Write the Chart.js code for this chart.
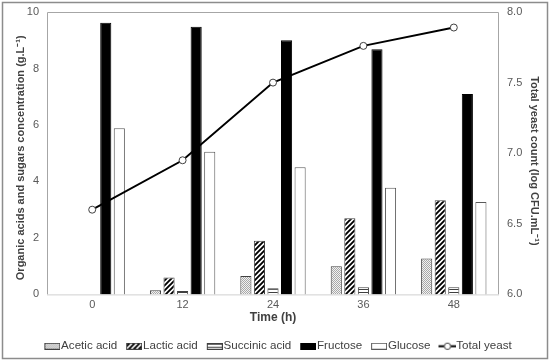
<!DOCTYPE html>
<html>
<head>
<meta charset="utf-8">
<script src="https://cdn.jsdelivr.net/npm/chart.js@4"></script>
<style>
  body { margin: 0; background: #fff; }
  #wrap { width: 550px; height: 362px; }
</style>
</head>
<body>
<div id="wrap"><canvas id="mychart" width="550" height="362"></canvas></div>
<script>
const times = ['0', '12', '24', '36', '48'];
const acetic = [0, 0.15, 0.65, 1.0, 1.27];
const lactic = [0, 0.6, 1.9, 2.7, 3.33];
const succinic = [0, 0.12, 0.22, 0.25, 0.25];
const fructose = [9.62, 9.48, 9.0, 8.68, 7.1];
const glucose = [5.88, 5.05, 4.5, 3.78, 3.27];
const yeast = [6.6, 6.95, 7.5, 7.76, 7.89];

const FONT = "'Liberation Sans', Arial, sans-serif";

// small canvas tiles for the hatch fills
function tile(w, h, draw) {
    const c = document.createElement('canvas');
    c.width = w; c.height = h;
    const g = c.getContext('2d');
    draw(g, w, h);
    return g.createPattern(c, 'repeat');
}

const dotFill = tile(2, 2, (g) => {
    g.fillStyle = '#f2f2f2'; g.fillRect(0, 0, 2, 2);
    g.fillStyle = '#a8a8a8'; g.fillRect(0, 0, 1, 1); g.fillRect(1, 1, 1, 1);
});
const diagFill = tile(5, 5, (g, w, h) => {
    g.fillStyle = '#fff'; g.fillRect(0, 0, w, h);
    g.strokeStyle = '#000'; g.lineWidth = 1.9;
    g.beginPath();
    g.moveTo(-1, h + 1); g.lineTo(w + 1, -1);
    g.moveTo(-2, 2); g.lineTo(2, -2);
    g.moveTo(w - 2, h + 2); g.lineTo(w + 2, h - 2);
    g.stroke();
});
const horizFill = tile(2, 3, (g) => {
    g.fillStyle = '#fff'; g.fillRect(0, 0, 2, 3);
    g.fillStyle = '#404040'; g.fillRect(0, 1, 2, 1);
});

// legend icons: drawing sits in the right 16px of the canvas so it hugs the text
function boxIcon(fill, border) {
    const c = document.createElement('canvas');
    c.width = 22; c.height = 7;
    const g = c.getContext('2d');
    g.fillStyle = fill; g.fillRect(6, 0, 16, 7);
    g.strokeStyle = border; g.lineWidth = 1;
    g.strokeRect(6.5, 0.5, 15, 6);
    return c;
}
function lineIcon() {
    const c = document.createElement('canvas');
    c.width = 24; c.height = 9;
    const g = c.getContext('2d');
    g.strokeStyle = '#000'; g.lineWidth = 2;
    g.beginPath(); g.moveTo(6, 4.5); g.lineTo(24, 4.5); g.stroke();
    g.fillStyle = '#fff'; g.strokeStyle = '#404040'; g.lineWidth = 1;
    g.beginPath(); g.arc(15, 4.5, 3.2, 0, Math.PI * 2); g.fill(); g.stroke();
    return c;
}
const icons = [
    boxIcon(dotFill, '#404040'),
    boxIcon(diagFill, '#404040'),
    boxIcon(horizFill, '#404040'),
    boxIcon('#000', '#000'),
    boxIcon('#fff', '#595959'),
    lineIcon()
];

const framePlugin = {
    id: 'frame',
    beforeDraw(chart) {
        const c = chart.ctx;
        c.save();
        c.fillStyle = '#fff';
        c.fillRect(0, 0, chart.width, chart.height);
        c.restore();
    },
    beforeDatasetsDraw(chart) {
        const {left, top, right, bottom} = chart.chartArea;
        const c = chart.ctx;
        c.save();
        c.lineWidth = 1;
        c.strokeStyle = '#a6a6a6';
        c.beginPath();
        c.moveTo(left + 0.5, bottom);
        c.lineTo(left + 0.5, top + 0.5);
        c.lineTo(right - 0.5, top + 0.5);
        c.lineTo(right - 0.5, bottom);
        c.stroke();
        c.strokeStyle = '#d0d0d0';
        c.beginPath();
        c.moveTo(left, bottom + 0.5);
        c.lineTo(right, bottom + 0.5);
        c.stroke();
        c.restore();
    },
    afterDraw(chart) {
        const c = chart.ctx;
        c.save();
        c.strokeStyle = '#8c8c8c';
        c.lineWidth = 1.5;
        c.strokeRect(2.5, 2.5, 545, 356);
        c.restore();
    }
};

const tickFont = { family: FONT, size: 11, lineHeight: 1 };

const ctx = document.getElementById('mychart');
const myChart = new Chart(ctx, {
    type: 'bar',
    data: {
        labels: times,
        datasets: [
            { label: 'Acetic acid', data: acetic, backgroundColor: dotFill, borderColor: '#404040', borderWidth: 1 },
            { label: 'Lactic acid', data: lactic, backgroundColor: diagFill, borderColor: '#404040', borderWidth: 1 },
            { label: 'Succinic acid', data: succinic, backgroundColor: horizFill, borderColor: '#404040', borderWidth: 1 },
            { label: 'Fructose', data: fructose, backgroundColor: '#000', borderColor: '#000', borderWidth: 1 },
            { label: 'Glucose', data: glucose, backgroundColor: '#fff', borderColor: '#595959', borderWidth: 1 },
            {
                type: 'line', label: 'Total yeast', data: yeast, yAxisID: 'y1', order: -1,
                borderColor: '#000', borderWidth: 2, tension: 0,
                pointRadius: 3.5, pointBackgroundColor: '#fff', pointBorderColor: '#404040', pointBorderWidth: 1
            }
        ]
    },
    plugins: [framePlugin],
    options: {
        responsive: false,
        animation: false,
        events: [],
        categoryPercentage: 0.75,
        barPercentage: 0.82,
        layout: { padding: { left: 10, right: 5, top: 12, bottom: 0 } },
        scales: {
            x: {
                grid: { display: false, drawTicks: false },
                border: { display: false },
                ticks: { color: '#595959', font: { family: FONT, size: 11 }, padding: 4 },
                title: { display: true, text: 'Time (h)', color: '#404040', font: { family: FONT, size: 12, weight: 'bold' }, padding: { top: 0, bottom: 8 } },
                afterFit: s => { s.height = 38; }
            },
            y: {
                position: 'left',
                min: 0, max: 10,
                grid: { display: false, drawTicks: false },
                border: { display: false },
                ticks: { stepSize: 2, color: '#595959', font: tickFont, padding: 8 },
                title: { display: true, text: 'Organic acids and sugars concentration (g.L\u207B\u00B9)   ', color: '#404040', font: { family: FONT, size: 11, weight: 'bold' }, padding: { top: 4, bottom: 0 } },
                afterFit: s => { s.width = 37; s.paddingTop = 0; }
            },
            y1: {
                position: 'right',
                min: 6, max: 8,
                grid: { display: false, drawTicks: false },
                border: { display: false },
                ticks: { stepSize: 0.5, color: '#595959', font: tickFont, padding: 8, callback: v => v.toFixed(1) },
                title: { display: true, text: '     Total yeast count (log CFU.mL\u207B\u00B9)', color: '#404040', font: { family: FONT, size: 11, weight: 'bold' }, padding: { top: 4, bottom: 0 } },
                afterFit: s => { s.width = 46; s.paddingTop = 0; }
            }
        },
        plugins: {
            legend: {
                position: 'bottom',
                labels: {
                    usePointStyle: true,
                    pointStyleWidth: 12,
                    padding: 8,
                    color: '#404040',
                    font: { family: FONT, size: 11.6 },
                    sort: (a, b) => a.datasetIndex - b.datasetIndex,
                    generateLabels: chart => {
                        const items = Chart.defaults.plugins.legend.labels.generateLabels(chart);
                        items.forEach(it => { it.pointStyle = icons[it.datasetIndex]; });
                        return items;
                    }
                }
            },
            tooltip: { enabled: false }
        }
    }
});
</script>
</body>
</html>
